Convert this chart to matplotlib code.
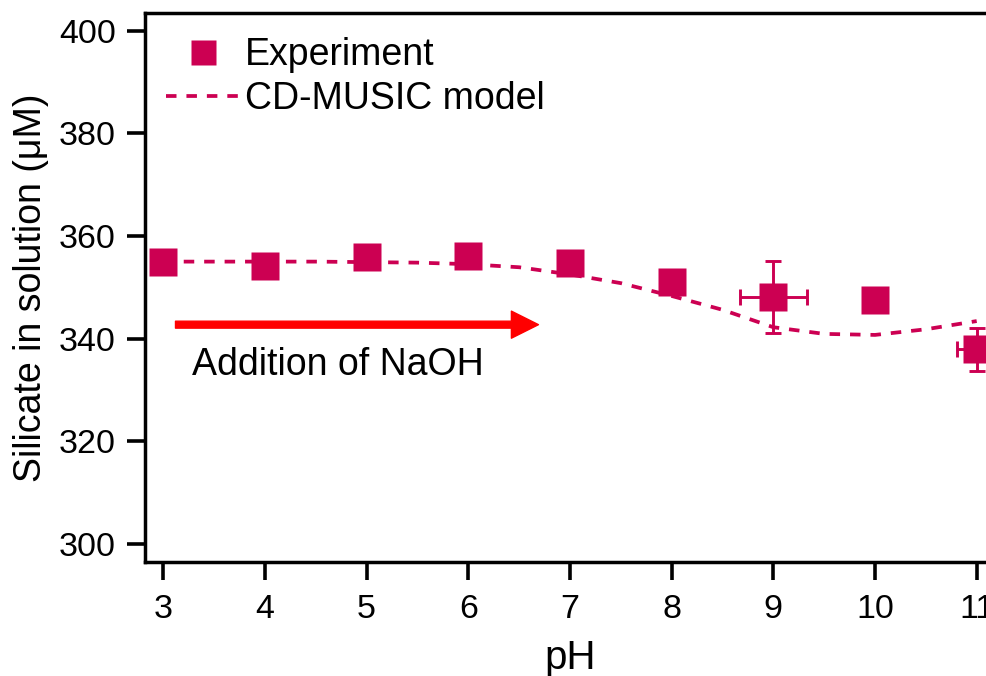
import numpy as np
import matplotlib.pyplot as plt

plt.rcParams['font.family'] = ['Liberation Sans', 'DejaVu Sans']

# experiment (squares)
ph_exp = [3, 4, 5, 6, 7, 8, 9, 10, 11]
si_exp = [355.0, 354.2, 355.9, 356.1, 354.8, 351.1, 348.1, 347.6, 337.9]
ph_err = [0, 0, 0, 0, 0, 0, 0.33, 0, 0.19]
si_err = [0, 0, 0, 0, 0, 0, 7.1, 0, 4.2]

# CD-MUSIC model (dashed)
ph_model = [3, 3.5, 4, 4.5, 5, 5.5, 6, 6.5, 7, 7.5, 8, 8.5, 9, 9.5, 10, 10.5, 11]
si_model = [355.0, 355.0, 355.0, 355.0, 354.9, 354.8, 354.5, 353.9, 352.5,
            350.8, 348.3, 345.6, 342.2, 340.9, 340.7, 341.8, 343.4]

col = '#CC0052'

fig = plt.figure(figsize=(9.87, 6.76), dpi=100)
ax = fig.add_axes([145 / 987, 114 / 676, 850 / 987, 549 / 676])

ax.plot(ph_model, si_model, color=col, lw=2.7, dashes=(2.8, 2.65),
        label='CD-MUSIC model', zorder=2)

# error bars only where they exist
ph_e = np.array(ph_exp)
mask = (np.array(ph_err) > 0) | (np.array(si_err) > 0)
ax.errorbar(ph_e[mask], np.array(si_exp)[mask],
            xerr=np.array(ph_err)[mask], yerr=np.array(si_err)[mask],
            fmt='none', ecolor=col, elinewidth=2.1, capsize=6, capthick=2.1, zorder=3)
ax.plot(ph_exp, si_exp, 's', color=col, ms=20, mec='none', label='Experiment',
        zorder=4)

ax.annotate('', xy=(6.69, 342.7), xytext=(3.12, 342.7),
            arrowprops=dict(color='#FF0000', width=5, headwidth=19.5,
                            headlength=19.5, shrink=0))
ax.text(3.28, 334.9, 'Addition of NaOH', fontsize=27, va='center', ha='left')

ax.set_xlim(2.82, 11.18)
ax.set_ylim(296.4, 403.5)
ax.set_xticks(range(3, 12))
ax.set_yticks(range(300, 401, 20))

for s in ['left', 'bottom', 'top']:
    ax.spines[s].set_linewidth(2.5)
ax.spines['right'].set_visible(False)
ax.tick_params(direction='out', length=13, width=2.6, labelsize=24.5)
ax.tick_params(axis='x', pad=10)
ax.tick_params(axis='y', pad=8)

ax.set_xlabel('pH', fontsize=29, labelpad=10)
ax.set_ylabel('Silicate in solution (\u03bcM)', fontsize=27, labelpad=7)

h, l = ax.get_legend_handles_labels()
ax.legend([h[1], h[0]], [l[1], l[0]], loc='upper left',
          bbox_to_anchor=(0.0, 0.993), frameon=False, fontsize=27,
          handlelength=2.0, handletextpad=0.12, borderaxespad=0.25,
          borderpad=0.3, labelspacing=0.2, markerscale=0.9)

fig.savefig('out.png', dpi=100)
